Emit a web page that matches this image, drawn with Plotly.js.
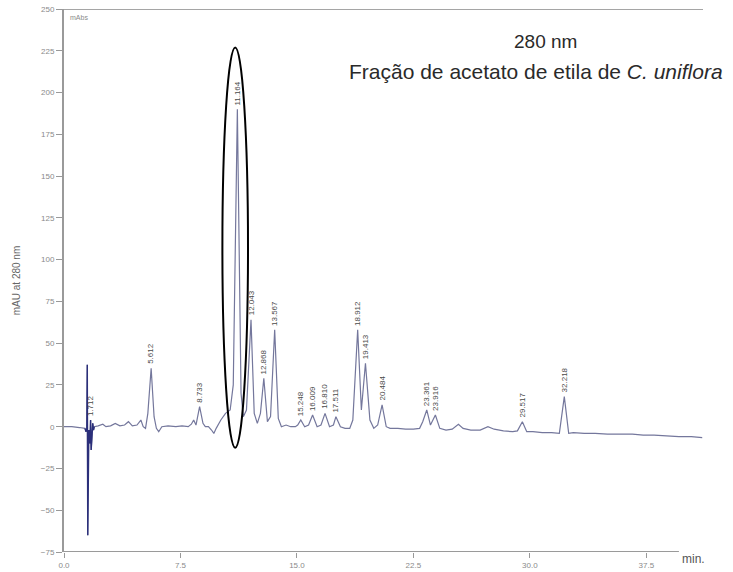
<!DOCTYPE html>
<html>
<head>
<meta charset="utf-8">
<script src="https://cdn.plot.ly/plotly-3.0.1.min.js"></script>
<style>
  html, body { margin: 0; padding: 0; background: #fff; }
  #chart { width: 733px; height: 572px; }
</style>
</head>
<body>
<div id="chart"></div>
<script>
// Chromatogram at 280 nm — ethyl acetate fraction.

// Baseline and valley points of the detector trace (min, mAU)
const traceTime = [
  0.0, 0.5, 1.0, 1.35, 1.42, 1.47, 1.5, 1.53, 1.56, 1.6, 1.67, 1.7, 1.75, 1.8, 1.85, 1.9, 1.95,
  2.2, 2.5, 2.7, 3.0, 3.3, 3.6, 3.9, 4.15, 4.4, 4.7, 4.95, 5.1, 5.25, 5.4,
  5.8, 5.95, 6.1, 6.3, 6.7, 7.2, 7.6, 8.0, 8.2, 8.35, 8.5,
  8.95, 9.1, 9.3, 9.5, 9.65, 9.8, 10.1, 10.4, 10.7, 10.9,
  11.4, 11.55, 11.75, 12.25, 12.45, 12.65, 13.1, 13.3, 13.8, 14.0, 14.3, 14.6, 14.9, 15.05,
  15.5, 15.75, 16.3, 16.55, 17.1, 17.35, 17.8, 18.1, 18.4, 18.6,
  19.15, 19.7, 19.95, 20.2, 20.75, 21.0, 21.5, 22.0, 22.5, 22.9, 23.1,
  23.6, 24.2, 24.6, 25.0, 25.4, 25.7, 26.2, 26.8, 27.3, 27.7, 28.3, 28.9, 29.2,
  29.8, 30.2, 30.8, 31.4, 31.9, 32.5, 32.8, 33.5, 34.2, 35.0, 35.8, 36.6, 37.3,
  38.0, 38.8, 39.6, 40.4, 41.1
];
const traceSignal = [
  0, 0, -0.5, -1, -3, -1, 37, -65, -5, -2, -10, -2, -14, -3, 2, -2, 0,
  0.5, 1.5, 0, 0.5, 2, 0.5, 1, 3, 0.5, 1, 4, 0, -1, 8,
  6, -1, -3, 0, 0.5, 0, 0.5, 0, 1.5, 4, 1,
  2, 0, 0, -2, -4, -1, 4, 8, 10, 25,
  20, 6, 10, 8, 2, 8, 3, 6, 5, 0, 1, 0, 0, 1,
  0, 1, 0, 1, 0, 1, 0, -1, -1, 4,
  10, 4, -1, 1, 0, -1, -1, -1.5, -1.5, -1, 3,
  1, -1, -2, -1.5, 1.5, -1, -2, -2, 0, -1.5, -2.5, -3, -2.5,
  -3, -3, -3.5, -3.5, -4, -4, -3.5, -4, -4, -4.5, -4.5, -4.5, -5,
  -5, -5.5, -6, -6, -6.5
];

// Integrated peaks: retention time (min) and apex height (mAU)
const peakTimes = [1.712, 5.612, 8.733, 11.164, 12.043, 12.868, 13.567, 15.248, 16.009,
                   16.810, 17.511, 18.912, 19.413, 20.484, 23.361, 23.916, 29.517, 32.218];
const peakHeights = [4, 35, 12, 190, 64, 29, 58, 4, 7,
                     8, 6, 58, 38, 13, 10, 7, 3, 18];

// Solvent front window drawn in a darker colour
const frontWindow = [1.35, 1.95];

const xTicks = [0, 7.5, 15, 22.5, 30, 37.5];
const xTickText = ['0.0', '7.5', '15.0', '22.5', '30.0', '37.5'];
const yTicks = [-75, -50, -25, 0, 25, 50, 75, 100, 125, 150, 175, 200, 225, 250];

// Merge the apex points into the trace, ordered by time
const pts = traceTime.map((t, i) => [t, traceSignal[i]])
  .concat(peakTimes.map((t, i) => [t, peakHeights[i]]))
  .sort((a, b) => a[0] - b[0]);

const front = pts.filter(p => p[0] >= frontWindow[0] && p[0] <= frontWindow[1]);

const traces = [
  {
    x: pts.map(p => p[0]), y: pts.map(p => p[1]),
    type: 'scatter', mode: 'lines',
    line: { color: '#74779c', width: 1.2 },
    hoverinfo: 'x+y'
  },
  {
    x: front.map(p => p[0]), y: front.map(p => p[1]),
    type: 'scatter', mode: 'lines',
    line: { color: '#2b2f7a', width: 1.4 },
    hoverinfo: 'x+y'
  }
];

const fam = 'Liberation Sans, Arial, sans-serif';
const tickFont = { family: fam, size: 8, color: '#8a8a8a' };

const annotations = peakTimes.map((t, i) => ({
  x: t, y: peakHeights[i], xref: 'x', yref: 'y',
  text: t.toFixed(3), textangle: -90,
  showarrow: false, xanchor: 'center', yanchor: 'bottom', yshift: 2,
  font: { family: fam, size: 8, color: '#4a4a4a' }
}));

annotations.push(
  {
    x: 0.754, y: 0.94, xref: 'paper', yref: 'paper',
    text: '280 nm', showarrow: false, xanchor: 'center', yanchor: 'middle',
    font: { family: fam, size: 19, color: '#2a2a2a' }
  },
  {
    x: 0.739, y: 0.885, xref: 'paper', yref: 'paper',
    text: 'Fração de acetato de etila de <i>C. uniflora</i>', showarrow: false,
    xanchor: 'center', yanchor: 'middle',
    font: { family: fam, size: 21, color: '#2a2a2a' }
  },
  {
    x: 0.006, y: 0.995, xref: 'paper', yref: 'paper',
    text: 'mAbs', showarrow: false, xanchor: 'left', yanchor: 'top',
    font: { family: fam, size: 7, color: '#8a8a8a' }
  },
  {
    x: 0.985, y: 0.004, xref: 'paper', yref: 'paper',
    text: 'min.', showarrow: false, xanchor: 'center', yanchor: 'top',
    font: { family: fam, size: 12, color: '#555' }
  }
);

const layout = {
  width: 733, height: 572,
  margin: { l: 64, r: 30, t: 9, b: 20 },
  paper_bgcolor: '#fff', plot_bgcolor: '#fff',
  showlegend: false,
  xaxis: {
    range: [0, 41.15], tickvals: xTicks, ticktext: xTickText,
    ticks: 'outside', ticklen: 5, tickcolor: '#999', tickwidth: 1,
    showline: false, showgrid: false, zeroline: false,
    tickfont: tickFont
  },
  yaxis: {
    range: [-75, 250], tickvals: yTicks,
    ticks: 'outside', ticklen: 6, tickcolor: '#999', tickwidth: 1,
    showline: true, linecolor: '#9a9a9a', linewidth: 2,
    showgrid: false, zeroline: false,
    tickfont: tickFont,
    title: { text: 'mAU at 280 nm', standoff: 18,
             font: { family: fam, size: 10, color: '#666' } }
  },
  shapes: [
    // bottom axis line stopping short of the unit label
    { type: 'line', xref: 'x', yref: 'y', x0: 0, x1: 39.6, y0: -75, y1: -75,
      line: { color: '#9a9a9a', width: 2 } },
    // top frame line
    { type: 'line', xref: 'x', yref: 'y', x0: 0, x1: 41.15, y0: 250, y1: 250,
      line: { color: '#a5a5a5', width: 2 } },
    // highlight of the major peak
    { type: 'circle', xref: 'x', yref: 'y', x0: 10.2, x1: 11.85, y0: -12.6, y1: 227,
      line: { color: '#000', width: 2 } }
  ],
  annotations: annotations
};

Plotly.newPlot('chart', traces, layout, { displayModeBar: false, staticPlot: true });
</script>
</body>
</html>
